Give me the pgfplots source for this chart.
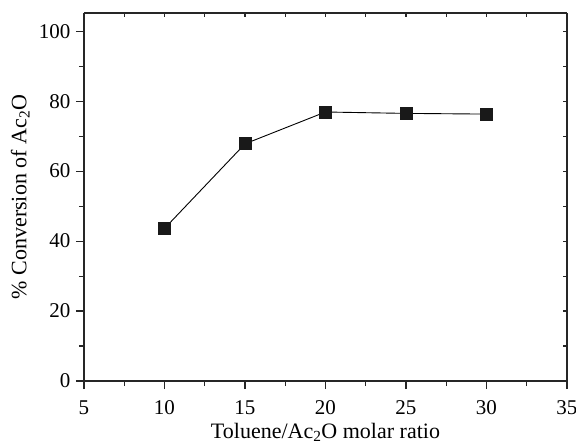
\documentclass[border=0pt]{standalone}
\usepackage{fontspec}
\setmainfont{Liberation Serif}
\usepackage{pgfplots}
\pgfplotsset{compat=1.18}
\begin{document}
\begin{tikzpicture}
\pgfplotsset{
  common/.style={
    scale only axis, width=483pt, height=368pt,
    xmin=5, xmax=35, ymin=0, ymax=105.2,
    xtick={5,10,...,35}, ytick={0,20,...,100},
    minor x tick num=1, minor y tick num=1,
    axis line style={line width=1.4pt, color=black!85},
    every tick/.style={line width=1.1pt, color=black!85},
    /pgf/number format/assume math mode=true,
    tick label style={font=\fontsize{21}{25}\selectfont},
  }
}
\path[use as bounding box] (-84pt,-64pt) rectangle (492pt,381pt);
\begin{axis}[common,
  at={(0pt,0pt)}, anchor=south west,
  axis x line*=bottom, axis y line*=left,
  tick align=outside,
  major tick length=8pt, minor tick length=5pt,
  xlabel={Toluene/Ac\textsubscript{2}O molar ratio},
  ylabel={\% Conversion of Ac\textsubscript{2}O},
  label style={font=\fontsize{22}{26}\selectfont},
  xlabel style={at={(axis description cs:0.5,-0.139)}, anchor=center},
  ylabel style={at={(axis description cs:-0.132,0.5)}, anchor=center},
  xticklabel style={yshift=-8pt},
  yticklabel style={xshift=-2pt},
]
\addplot[black, line width=0.9pt, mark=square*, mark size=6pt, mark options={fill=black!90, draw=black!90}]
coordinates {(10,43.6) (15,67.8) (20,76.9) (25,76.5) (30,76.3)};
\end{axis}
\begin{axis}[common,
  at={(0pt,0pt)}, anchor=south west,
  axis x line*=top, axis y line*=right,
  tick align=inside,
  major tick length=4pt, minor tick length=4pt,
  xticklabels={}, yticklabels={},
]
\end{axis}
\end{tikzpicture}
\end{document}
